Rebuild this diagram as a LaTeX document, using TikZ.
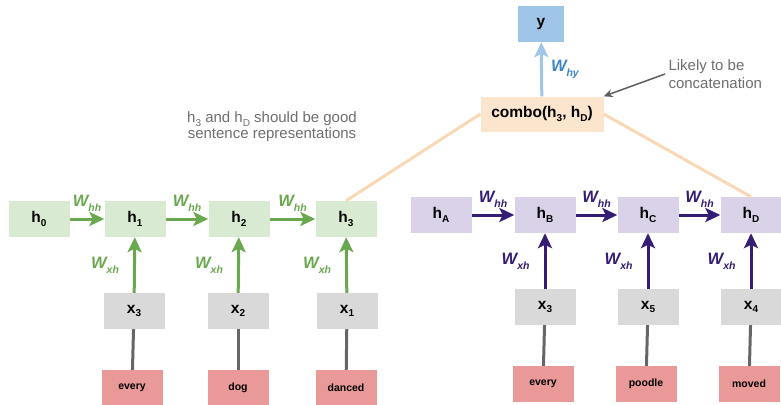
\documentclass[tikz,border=0pt]{standalone}
\usepackage{fontspec}
\setmainfont{Liberation Sans}
\usetikzlibrary{arrows.meta, positioning}

\definecolor{hgreen}{HTML}{D9EAD3}
\definecolor{agreen}{HTML}{6AA84F}
\definecolor{hpurple}{HTML}{D9D2E9}
\definecolor{apurple}{HTML}{351C75}
\definecolor{xgrey}{HTML}{D9D9D9}
\definecolor{lgrey}{HTML}{666666}
\definecolor{wordred}{HTML}{EA9999}
\definecolor{ybox}{HTML}{9FC5E8}
\definecolor{ylabel}{HTML}{3D85C6}
\definecolor{combobox}{HTML}{FCE5CD}
\definecolor{comboline}{HTML}{FAD8B6}
\definecolor{notegrey}{HTML}{6E6E6E}

% bold letter with a lowered index, and the weight labels
\newcommand{\hidx}[2]{#1\raisebox{-.45ex}{\fontsize{10}{10}\selectfont #2}}
\newcommand{\wlab}[1]{\textit{W}\raisebox{-.55ex}{\fontsize{10.5}{10.5}\selectfont\itshape #1}}

\begin{document}
\begin{tikzpicture}[x=1pt, y=-1pt,
  cell/.style={inner sep=0pt, minimum width=61pt, minimum height=36pt,
    font=\fontsize{15.5}{17}\selectfont\bfseries},
  word/.style={cell, fill=wordred, font=\fontsize{10.5}{12}\selectfont\bfseries},
  wt/.style={font=\fontsize{16.5}{18}\selectfont\bfseries\itshape, inner sep=1pt},
  garrow/.style={agreen, line width=3pt, -{Stealth[length=15pt, width=14pt, inset=3.5pt]}},
  parrow/.style={apurple, line width=3pt, -{Stealth[length=15pt, width=14pt, inset=3.5pt]}},
  feed/.style={lgrey, line width=3pt}]
  \useasboundingbox (0,0) rectangle (781,404);

  %--- forward chain (green) ---
  \node[cell, fill=hgreen] (h0) at (39,219) {\hidx{h}{0}};
  \node[cell, fill=hgreen] (h1) at (135,219) {\hidx{h}{1}};
  \node[cell, fill=hgreen] (h2) at (239,219) {\hidx{h}{2}};
  \node[cell, fill=hgreen] (h3) at (346,219) {\hidx{h}{3}};
  \node[cell, fill=xgrey] (x3) at (134,311) {\hidx{x}{3}};
  \node[cell, fill=xgrey] (x2) at (238,311) {\hidx{x}{2}};
  \node[cell, fill=xgrey] (x1) at (347,311) {\hidx{x}{1}};
  \node[word] (every) at (132,388) {every};
  \node[word] (dog) at (238,388) {dog};
  \node[word] (danced) at (346,388) {danced};

  \foreach \a/\b in {h0/h1, h1/h2, h2/h3}
    \draw[garrow] (\a) -- (\b)
      node[midway, above=5pt, wt, agreen] {\wlab{hh}};
  \foreach \a/\b in {x3/h1, x2/h2, x1/h3}
    \draw[garrow] (\a) -- (\b)
      node[midway, left=13pt, wt, agreen] {\wlab{xh}};
  \foreach \a/\b in {every/x3, dog/x2, danced/x1}
    \draw[feed] (\a) -- (\b);

  %--- backward chain (purple) ---
  \node[cell, fill=hpurple] (hA) at (441,215) {\hidx{h}{A}};
  \node[cell, fill=hpurple] (hB) at (545,215) {\hidx{h}{B}};
  \node[cell, fill=hpurple] (hC) at (648,215) {\hidx{h}{C}};
  \node[cell, fill=hpurple] (hD) at (751,215) {\hidx{h}{D}};
  \node[cell, fill=xgrey] (x3b) at (545,307) {\hidx{x}{3}};
  \node[cell, fill=xgrey] (x5) at (648,307) {\hidx{x}{5}};
  \node[cell, fill=xgrey] (x4) at (751,307) {\hidx{x}{4}};
  \node[word] (everyb) at (543,384) {every};
  \node[word] (poodle) at (646,384) {poodle};
  \node[word] (moved) at (749,384) {moved};

  \foreach \a/\b in {hA/hB, hB/hC, hC/hD}
    \draw[parrow] (\a) -- (\b)
      node[midway, above=5pt, wt, apurple] {\wlab{hh}};
  \foreach \a/\b in {x3b/hB, x5/hC, x4/hD}
    \draw[parrow] (\a) -- (\b)
      node[midway, left=13pt, wt, apurple] {\wlab{xh}};
  \foreach \a/\b in {everyb/x3b, poodle/x5, moved/x4}
    \draw[feed] (\a) -- (\b);

  %--- combination and output ---
  \node[cell, fill=combobox, minimum width=123pt, minimum height=35pt] (combo) at (542,114)
    {combo(\hidx{h}{3}, \hidx{h}{D})};
  \node[cell, fill=ybox, minimum width=46pt] (y) at (541,24) {y};
  \draw[ybox, line width=3pt, -{Stealth[length=15pt, width=14pt, inset=3.5pt]}] (combo) -- (y)
    node[midway, right=7pt, wt, ylabel] {\wlab{hy}};
  \draw[comboline, line width=3pt] (combo.west) -- (h3.north);
  \draw[comboline, line width=3pt] (combo.east) -- (hD.north);

  % side notes
  \node[align=center, text=notegrey, font=\fontsize{15}{16}\selectfont] (repr) at (272,127)
    {\hidx{h}{3} and \hidx{h}{D} should be good\\sentence representations};
  \node[align=left, text=notegrey, font=\fontsize{15}{18}\selectfont, anchor=west] (note) at (665,74)
    {Likely to be\\concatenation};
  \draw[notegrey!85!black, line width=1.5pt, -{Stealth[length=9pt, width=8pt]}]
    (note.west) -- (combo.north east);
\end{tikzpicture}
\end{document}
